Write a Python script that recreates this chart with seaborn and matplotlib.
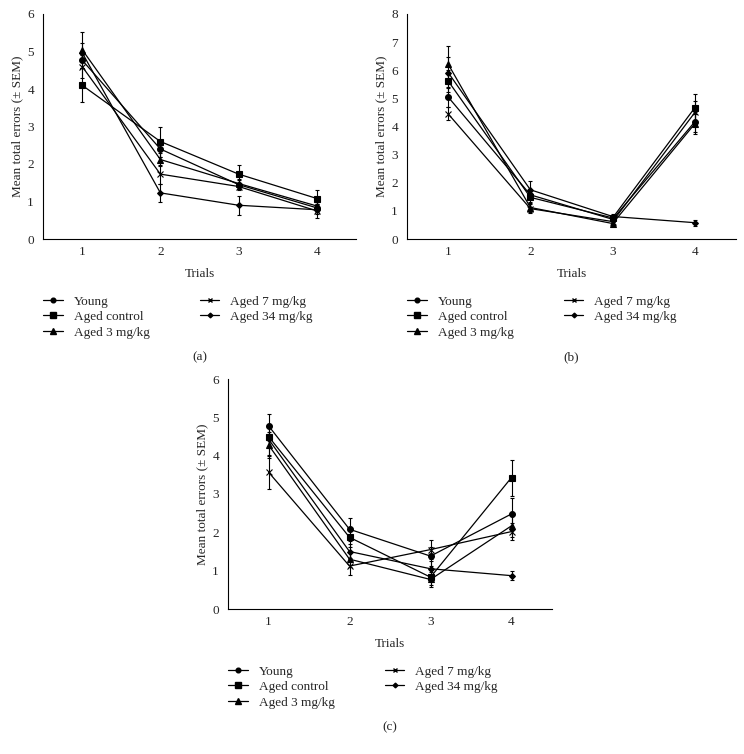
import numpy as np
import pandas as pd
import seaborn as sns
import matplotlib.pyplot as plt
from matplotlib.lines import Line2D

trials = [1, 2, 3, 4]
groups = ['Young', 'Aged control', 'Aged 3 mg/kg', 'Aged 7 mg/kg', 'Aged 34 mg/kg']

# panel (a)
a_young = [4.77, 2.40, 1.45, 0.83]
a_control = [4.10, 2.60, 1.73, 1.08]
a_3mg = [5.05, 2.12, 1.48, 0.88]
a_7mg = [4.60, 1.73, 1.40, 0.75]
a_34mg = [4.97, 1.23, 0.90, 0.78]
a_sem_young = [0.20, 0.20, 0.12, 0.10]
a_sem_control = [0.45, 0.40, 0.25, 0.23]
a_sem_3mg = [0.48, 0.18, 0.12, 0.10]
a_sem_7mg = [0.30, 0.25, 0.10, 0.18]
a_sem_34mg = [0.25, 0.25, 0.25, 0.12]

# panel (b)
b_young = [5.05, 1.57, 0.70, 4.17]
b_control = [5.62, 1.48, 0.75, 4.67]
b_3mg = [6.22, 1.12, 0.55, 4.10]
b_7mg = [4.45, 1.08, 0.62, 4.50]
b_34mg = [5.92, 1.75, 0.80, 0.58]
b_sem_young = [0.35, 0.15, 0.08, 0.35]
b_sem_control = [0.40, 0.15, 0.10, 0.50]
b_sem_3mg = [0.63, 0.15, 0.06, 0.35]
b_sem_7mg = [0.23, 0.16, 0.08, 0.40]
b_sem_34mg = [0.55, 0.33, 0.10, 0.10]

# panel (c)
c_young = [4.78, 2.08, 1.38, 2.48]
c_control = [4.50, 1.87, 0.83, 3.43]
c_3mg = [4.28, 1.30, 0.77, 2.17]
c_7mg = [3.57, 1.12, 1.55, 2.02]
c_34mg = [4.43, 1.50, 1.05, 0.87]
c_sem_young = [0.32, 0.30, 0.25, 0.42]
c_sem_control = [0.30, 0.25, 0.20, 0.47]
c_sem_3mg = [0.35, 0.20, 0.19, 0.30]
c_sem_7mg = [0.43, 0.22, 0.25, 0.22]
c_sem_34mg = [0.40, 0.20, 0.20, 0.12]

markers = {'Young': 'o', 'Aged control': 's', 'Aged 3 mg/kg': '^',
           'Aged 7 mg/kg': 'x', 'Aged 34 mg/kg': 'D'}
msizes = {'Young': 4.2, 'Aged control': 4.6, 'Aged 3 mg/kg': 4.6,
          'Aged 7 mg/kg': 4, 'Aged 34 mg/kg': 3}

panels = [
    ('(a)', [a_young, a_control, a_3mg, a_7mg, a_34mg],
     [a_sem_young, a_sem_control, a_sem_3mg, a_sem_7mg, a_sem_34mg], 6),
    ('(b)', [b_young, b_control, b_3mg, b_7mg, b_34mg],
     [b_sem_young, b_sem_control, b_sem_3mg, b_sem_7mg, b_sem_34mg], 8),
    ('(c)', [c_young, c_control, c_3mg, c_7mg, c_34mg],
     [c_sem_young, c_sem_control, c_sem_3mg, c_sem_7mg, c_sem_34mg], 6),
]

sns.set_style('white')
plt.rcParams['font.family'] = ['Liberation Serif', 'DejaVu Serif']
fs = 9.5

fig = plt.figure(figsize=(7.44, 7.54), dpi=100)
W, H = 744, 754
# axes boxes in pixels: left, right, top, bottom
boxes = [(43, 356, 14, 239), (407, 736, 14, 239), (228, 552, 379, 609)]

for (tag, vals, sems, ymax), (l, r, t, b) in zip(panels, boxes):
    ax = fig.add_axes([l / W, 1 - b / H, (r - l) / W, (b - t) / H])
    rows = []
    for g, v, s in zip(groups, vals, sems):
        for tr, y, e in zip(trials, v, s):
            rows.append({'trial': tr, 'errors': y, 'sem': e, 'group': g})
    df = pd.DataFrame(rows)

    for g in groups:
        d = df[df['group'] == g]
        ax.errorbar(d['trial'], d['errors'], yerr=d['sem'], fmt='none',
                    ecolor='black', elinewidth=0.8, capsize=1.5, capthick=0.8)
        sns.lineplot(data=d, x='trial', y='errors', color='black', linewidth=0.9,
                     marker=markers[g], markersize=msizes[g], markeredgecolor='black',
                     markeredgewidth=0.8, legend=False, sort=False, ax=ax)

    ax.set_xlim(0.5, 4.5)
    ax.set_ylim(0, ymax)
    ax.set_xticks(trials)
    ax.set_xticks([0.5, 1.5, 2.5, 3.5, 4.5], minor=True)
    ax.tick_params(axis='x', which='major', length=0, pad=5, labelsize=fs)
    ax.tick_params(axis='x', which='minor', length=3, direction='in', width=0.8)
    ax.tick_params(axis='y', length=3, direction='out', width=0.8, labelsize=fs)
    ax.set_yticks(range(0, ymax + 1))
    for sp in ['top', 'right']:
        ax.spines[sp].set_visible(False)
    for sp in ['left', 'bottom']:
        ax.spines[sp].set_linewidth(0.8)
        ax.spines[sp].set_color('black')
    ax.set_xlabel('Trials', fontsize=fs, labelpad=7)
    ax.set_ylabel('Mean total errors (\u00b1 SEM)', fontsize=fs, labelpad=3)

    handles = [Line2D([0], [0], color='black', lw=0.9, marker=markers[g],
                      markersize=msizes[g] * 0.8) for g in groups]
    cx = (l + r) / 2
    ax.legend(handles, groups, ncol=2, loc='upper left',
              bbox_to_anchor=((l - 5) / W, 1 - (b + 51) / H),
              bbox_transform=fig.transFigure, frameon=False, fontsize=fs,
              handlelength=1.5, handletextpad=0.8, columnspacing=3.8,
              labelspacing=0.25, borderaxespad=0)
    fig.text(cx / W, 1 - (b + 118) / H, tag, ha='center', va='center', fontsize=fs)

fig.savefig('out.png', dpi=100)
